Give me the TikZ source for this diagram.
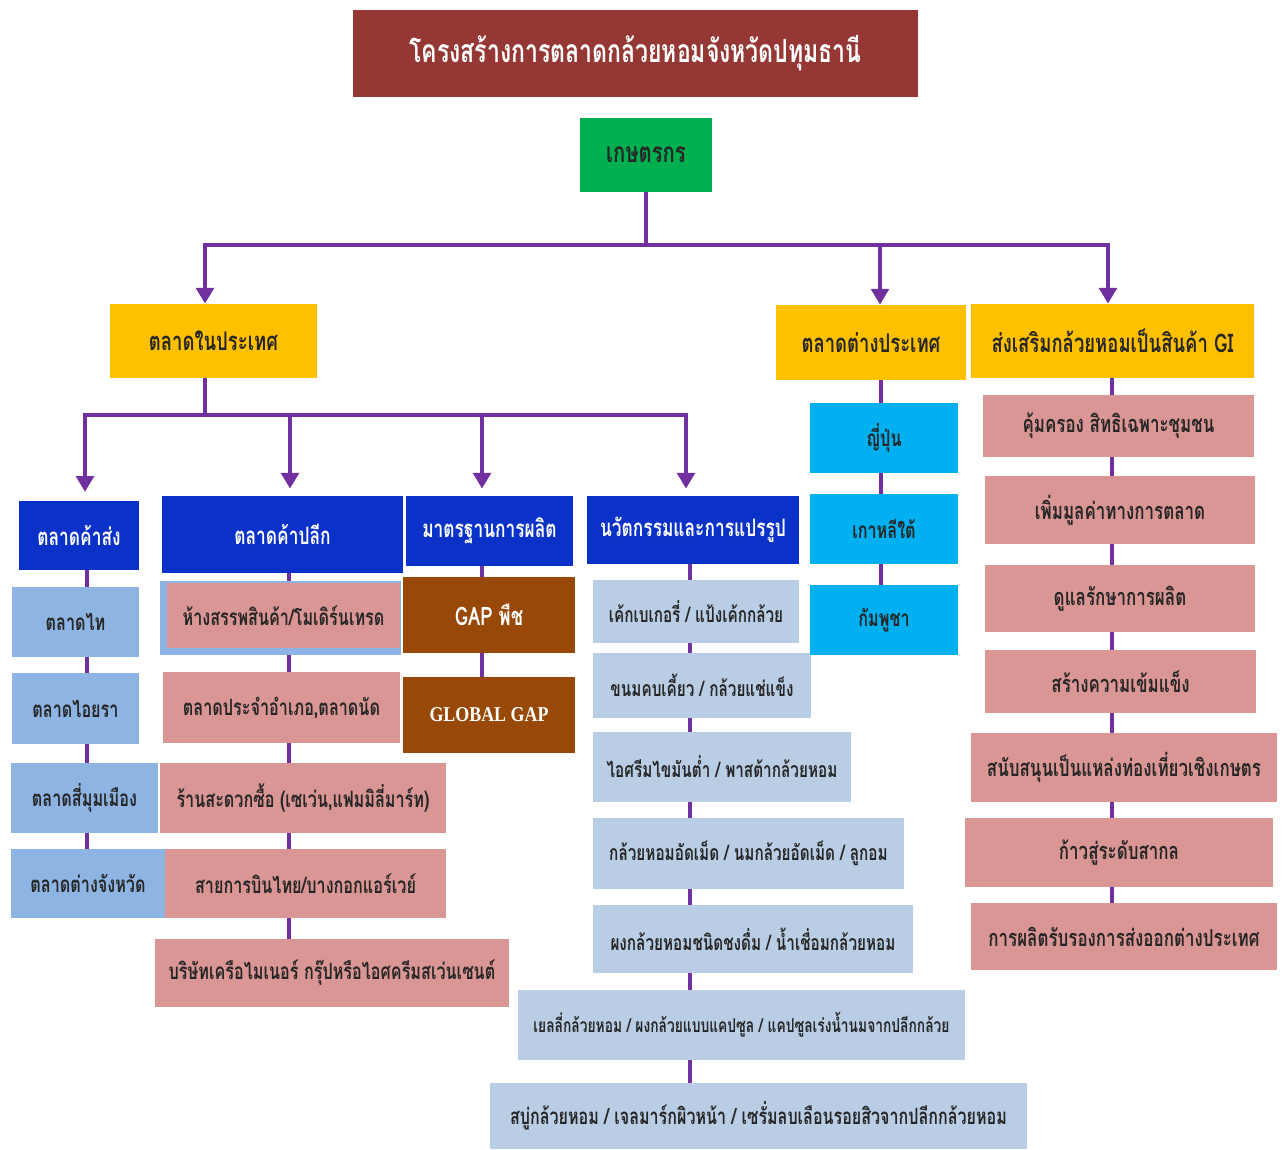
\documentclass[tikz,border=0pt]{standalone}
\usepackage{fontspec}
\setmainfont[Script=Thai,FakeStretch=0.72]{Loma}
\newfontfamily\gapfont[FakeStretch=0.85]{Liberation Serif}
\usetikzlibrary{arrows.meta, calc}

\definecolor{titlered}{HTML}{953735}
\definecolor{farmgreen}{HTML}{00B050}
\definecolor{gold}{HTML}{FFC000}
\definecolor{royal}{HTML}{0A32C8}
\definecolor{skyblue}{HTML}{8DB4E2}
\definecolor{rosepink}{HTML}{DA9694}
\definecolor{rust}{HTML}{984807}
\definecolor{steel}{HTML}{B9CDE5}
\definecolor{cyanbox}{HTML}{00B0F0}
\definecolor{linkpurple}{HTML}{7030A0}

\newcommand{\fsz}[1]{\bfseries\fontsize{#1}{#1}\selectfont}

\tikzset{
    box/.style={rectangle, inner sep=0pt, text=black!85, font=\fsz{12.8}},
    head/.style={box, fill=royal, text=white, font=\fsz{13.7}},
    mainbox/.style={box, fill=gold, font=\fsz{14.6}},
    inbox/.style={box, fill=steel, font=\fsz{12.1}},
    gibox/.style={box, fill=rosepink, font=\fsz{13.4}},
    link/.style={draw=linkpurple, line width=2.8pt},
    arr/.style={link, -{Triangle[width=10pt,length=9pt]}},
}

\begin{document}
\begin{tikzpicture}[y=-1cm]
        \useasboundingbox (0,0) rectangle (25.70,22.98);

        % top
        \node[box, fill=titlered, text=white, font=\fsz{18.2}, minimum width=11.30cm, minimum height=1.74cm] (title) at (12.71,1.07) {โครงสร้างการตลาดกล้วยหอมจังหวัดปทุมธานี};
        \node[box, fill=farmgreen, font=\fsz{16}, minimum width=2.64cm, minimum height=1.48cm] (farmer) at (12.92,3.10) {เกษตรกร};

        \node[mainbox, minimum width=4.14cm, minimum height=1.48cm] (dom) at (4.27,6.82) {ตลาดในประเทศ};
        \node[mainbox, minimum width=3.80cm, minimum height=1.50cm] (foreign) at (17.42,6.85) {ตลาดต่างประเทศ};
        \node[mainbox, minimum width=5.66cm, minimum height=1.48cm] (gi) at (22.25,6.82) {ส่งเสริมกล้วยหอมเป็นสินค้า GI};

        % domestic headers
        \node[head, minimum width=2.40cm, minimum height=1.38cm] (whole) at (1.58,10.71) {ตลาดค้าส่ง};
        \node[head, minimum width=4.82cm, minimum height=1.54cm] (retail) at (5.65,10.69) {ตลาดค้าปลีก};
        \node[head, minimum width=3.34cm, minimum height=1.40cm] (std) at (9.79,10.62) {มาตรฐานการผลิต};
        \node[head, minimum width=4.24cm, minimum height=1.36cm] (innov) at (13.86,10.60) {นวัตกรรมและการแปรรูป};

        % wholesale
        \node[box, fill=skyblue, minimum width=2.54cm, minimum height=1.40cm] (w1) at (1.51,12.44) {ตลาดไท};
        \node[box, fill=skyblue, minimum width=2.54cm, minimum height=1.42cm] (w2) at (1.51,14.17) {ตลาดไอยรา};
        \node[box, fill=skyblue, minimum width=2.94cm, minimum height=1.40cm] (w3) at (1.69,15.96) {ตลาดสี่มุมเมือง};
        \node[box, fill=skyblue, minimum width=3.08cm, minimum height=1.38cm] (w4) at (1.76,17.67) {ตลาดต่างจังหวัด};

        % retail
        \node[box, fill=skyblue, minimum width=4.82cm, minimum height=1.48cm] (r1) at (5.61,12.36) {};
        \node[box, fill=rosepink, minimum width=4.66cm, minimum height=1.30cm] (r1in) at (5.67,12.31) {ห้างสรรพสินค้า/โมเดิร์นเทรด};
        \node[box, fill=rosepink, minimum width=4.74cm, minimum height=1.42cm] (r2) at (5.63,14.15) {ตลาดประจำอำเภอ,ตลาดนัด};
        \node[box, fill=rosepink, minimum width=5.72cm, minimum height=1.40cm] (r3) at (6.06,15.96) {ร้านสะดวกซื้อ (เซเว่น,แฟมมิลี่มาร์ท)};
        \node[box, fill=rosepink, minimum width=5.62cm, minimum height=1.38cm] (r4) at (6.11,17.67) {สายการบินไทย/บางกอกแอร์เวย์};
        \node[box, fill=rosepink, minimum width=7.08cm, minimum height=1.36cm] (r5) at (6.64,19.46) {บริษัทเครือไมเนอร์ กรุ๊ปหรือไอศครีมสเว่นเซนต์};

        % standards
        \node[box, fill=rust, text=white, font=\fsz{14.5}, minimum width=3.44cm, minimum height=1.52cm] (g1) at (9.78,12.30) {GAP พืช};
        \node[box, fill=rust, text=white, font=\gapfont\fsz{12}, minimum width=3.44cm, minimum height=1.52cm] (g2) at (9.78,14.30) {GLOBAL GAP};

        % innovation
        \node[inbox, minimum width=4.12cm, minimum height=1.26cm] (i1) at (13.92,12.23) {เค้กเบเกอรี่ / แป้งเค้กกล้วย};
        \node[inbox, minimum width=4.36cm, minimum height=1.30cm] (i2) at (14.04,13.71) {ขนมคบเคี้ยว / กล้วยแช่แข็ง};
        \node[inbox, minimum width=5.16cm, minimum height=1.40cm] (i3) at (14.44,15.34) {ไอศรีมไขมันต่ำ / พาสต้ากล้วยหอม};
        \node[inbox, minimum width=6.22cm, minimum height=1.42cm] (i4) at (14.97,17.07) {กล้วยหอมอัดเม็ด / นมกล้วยอัดเม็ด / ลูกอม};
        \node[inbox, minimum width=6.40cm, minimum height=1.36cm] (i5) at (15.06,18.78) {ผงกล้วยหอมชนิดชงดื่ม / น้ำเชื่อมกล้วยหอม};
        \node[inbox, font=\fsz{10.9}, minimum width=8.94cm, minimum height=1.40cm] (i6) at (14.83,20.50) {เยลลี่กล้วยหอม / ผงกล้วยแบบแคปซูล / แคปซูลเร่งน้ำนมจากปลีกกล้วย};
        \node[inbox, font=\fsz{12.7}, minimum width=10.74cm, minimum height=1.32cm] (i7) at (15.17,22.32) {สบู่กล้วยหอม / เจลมาร์กผิวหน้า / เซรั่มลบเลือนรอยสิวจากปลีกกล้วยหอม};

        % foreign
        \node[box, fill=cyanbox, minimum width=2.96cm, minimum height=1.40cm] (f1) at (17.68,8.76) {ญี่ปุ่น};
        \node[box, fill=cyanbox, minimum width=2.96cm, minimum height=1.40cm] (f2) at (17.68,10.58) {เกาหลีใต้};
        \node[box, fill=cyanbox, minimum width=2.96cm, minimum height=1.40cm] (f3) at (17.68,12.40) {กัมพูชา};

        % GI
        \node[gibox, minimum width=5.42cm, minimum height=1.24cm] (p1) at (22.37,8.52) {คุ้มครอง สิทธิเฉพาะชุมชน};
        \node[gibox, minimum width=5.40cm, minimum height=1.36cm] (p2) at (22.40,10.20) {เพิ่มมูลค่าทางการตลาด};
        \node[gibox, minimum width=5.40cm, minimum height=1.34cm] (p3) at (22.40,11.97) {ดูแลรักษาการผลิต};
        \node[gibox, minimum width=5.42cm, minimum height=1.26cm] (p4) at (22.41,13.63) {สร้างความเข้มแข็ง};
        \node[gibox, minimum width=6.12cm, minimum height=1.38cm] (p5) at (22.48,15.35) {สนับสนุนเป็นแหล่งท่องเที่ยวเชิงเกษตร};
        \node[gibox, minimum width=6.16cm, minimum height=1.38cm] (p6) at (22.38,17.05) {ก้าวสู่ระดับสากล};
        \node[gibox, minimum width=6.12cm, minimum height=1.34cm] (p7) at (22.48,18.73) {การผลิตรับรองการส่งออกต่างประเทศ};

        % connectors
        \coordinate (bus) at (12.92,4.90);
        \coordinate (xdom) at (4.10,0);
        \coordinate (xfor) at (17.60,0);
        \coordinate (xgi) at (22.16,0);
        \draw[link] (farmer.south) -- (bus);
        \draw[arr] (bus) -| (dom.north -| xdom);
        \draw[arr] (bus) -| (foreign.north -| xfor);
        \draw[arr] (bus) -| (gi.north -| xgi);

        \coordinate (bus2) at (4.10,8.30);
        \coordinate (xwhole) at (1.70,0);
        \coordinate (xretail) at (5.80,0);
        \coordinate (xstd) at (9.64,0);
        \coordinate (xinnov) at (13.72,0);
        \draw[link] (dom.south -| xdom) -- (bus2);
        \draw[arr, shorten >=5pt] (bus2) -| (whole.north -| xwhole);
        \draw[arr, shorten >=4pt] (bus2) -| (retail.north -| xretail);
        \draw[arr, shorten >=4pt] (bus2) -| (std.north -| xstd);
        \draw[arr, shorten >=4pt] (bus2) -| (innov.north -| xinnov);

        \coordinate (cw) at (1.74,0);
        \coordinate (cr) at (5.78,0);
        \coordinate (cs) at (9.64,0);
        \coordinate (ci) at (13.80,0);
        \coordinate (cf) at (17.62,0);
        \coordinate (cg) at (22.24,0);
        \foreach \a/\b/\c in {whole/w1/cw, w1/w2/cw, w2/w3/cw, w3/w4/cw,
                retail/r1/cr, r1/r2/cr, r2/r3/cr, r3/r4/cr, r4/r5/cr,
                std/g1/cs, g1/g2/cs,
                innov/i1/ci, i1/i2/ci, i2/i3/ci, i3/i4/ci, i4/i5/ci, i5/i6/ci, i6/i7/ci,
                foreign/f1/cf, f1/f2/cf, f2/f3/cf,
                gi/p1/cg, p1/p2/cg, p2/p3/cg, p3/p4/cg, p4/p5/cg, p5/p6/cg, p6/p7/cg}
            \draw[link] (\a.south -| \c) -- (\b.north -| \c);
\end{tikzpicture}
\end{document}
